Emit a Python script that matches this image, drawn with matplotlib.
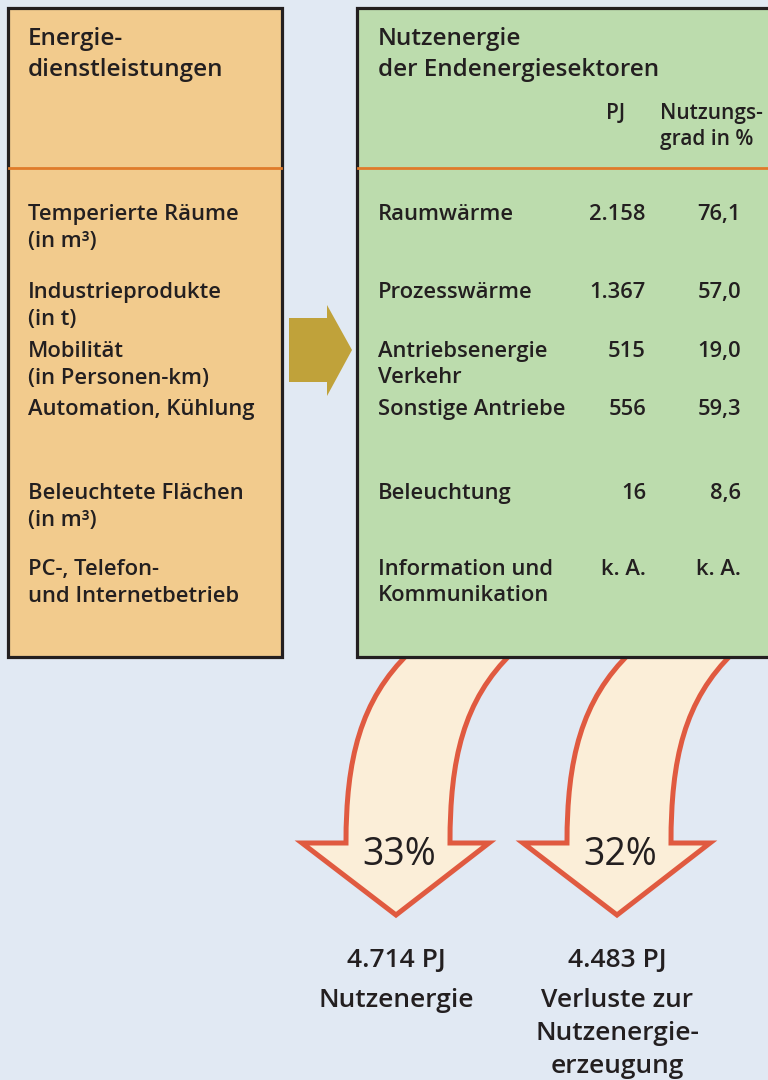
import matplotlib.pyplot as plt
from matplotlib.patches import Rectangle, Polygon, PathPatch
from matplotlib.path import Path

plt.rcParams['font.family'] = ['Open Sans', 'DejaVu Sans']

# data
left_title = ['Energie-', 'dienstleistungen']
right_title = ['Nutzenergie', 'der Endenergiesektoren']
services = [['Temperierte Räume', '(in m³)'], ['Industrieprodukte', '(in t)'],
            ['Mobilität', '(in Personen-km)'], ['Automation, Kühlung'],
            ['Beleuchtete Flächen', '(in m³)'], ['PC-, Telefon-', 'und Internetbetrieb']]
sectors = [['Raumwärme'], ['Prozesswärme'], ['Antriebsenergie', 'Verkehr'], ['Sonstige Antriebe'],
           ['Beleuchtung'], ['Information und', 'Kommunikation']]
sector_pj = ['2.158', '1.367', '515', '556', '16', 'k. A.']
sector_grad = ['76,1', '57,0', '19,0', '59,3', '8,6', 'k. A.']
shares = ['33%', '32%']
totals = ['4.714 PJ', '4.483 PJ']
total_labels = [['Nutzenergie'], ['Verluste zur', 'Nutzenergie-', 'erzeugung']]

row_base = [220, 298, 357, 415, 499, 575]

dark = '#231f20'
fig = plt.figure(figsize=(7.68, 10.8), dpi=100, facecolor='#e1e9f3')
ax = fig.add_axes([0, 0, 1, 1])
ax.set_xlim(0, 768)
ax.set_ylim(1080, 0)
ax.axis('off')

fs_head = 17.5
fs_item = 15.8


def lines(x, y0, rows, step, **kw):
    for k, r in enumerate(rows):
        ax.text(x, y0 + k * step, r, color=dark, va='baseline', zorder=5, **kw)


# boxes
ax.add_patch(Rectangle((8, 8), 274, 649, facecolor='#f2cb8d', edgecolor=dark, lw=2.3, zorder=3))
ax.add_patch(Rectangle((357, 8), 430, 649, facecolor='#bcdcad', edgecolor=dark, lw=2.3, zorder=3))
ax.plot([9, 281], [168, 168], color='#e07b2a', lw=2, zorder=4)
ax.plot([358, 768], [168, 168], color='#e07b2a', lw=2, zorder=4)

# gold arrow
ax.add_patch(Polygon([(289, 318), (327, 318), (327, 305), (352, 350), (327, 396), (327, 382), (289, 382)],
                     closed=True, facecolor='#c0a23a', edgecolor='none', zorder=3))

# titles
lines(28, 45, left_title, 31, fontsize=fs_head, fontweight='semibold', ha='left')
lines(378, 45, right_title, 31, fontsize=fs_head, fontweight='semibold', ha='left')
lines(625, 119, ['PJ'], 27, fontsize=15, fontweight='semibold', ha='right')
lines(660, 119, ['Nutzungs-', 'grad in %'], 26, fontsize=15, fontweight='semibold', ha='left')

for s, y in zip(services, row_base):
    lines(28, y, s, 27, fontsize=fs_item, fontweight='semibold', ha='left')
for s, pj, g, y in zip(sectors, sector_pj, sector_grad, row_base):
    lines(378, y, s, 26, fontsize=fs_item, fontweight='semibold', ha='left')
    lines(646, y, [pj], 26, fontsize=fs_item, fontweight='semibold', ha='right')
    lines(741, y, [g], 26, fontsize=fs_item, fontweight='semibold', ha='right')


# curved arrows
def curved_arrow(dx):
    verts = [(302, 843), (346, 843),
             (346, 760), (360, 700), (410, 652),
             (513, 652),
             (463, 700), (450, 760), (450, 843),
             (489, 843), (396, 915), (302, 843)]
    verts = [(x + dx, y) for x, y in verts]
    codes = [Path.MOVETO, Path.LINETO,
             Path.CURVE4, Path.CURVE4, Path.CURVE4,
             Path.LINETO,
             Path.CURVE4, Path.CURVE4, Path.CURVE4,
             Path.LINETO, Path.LINETO, Path.CLOSEPOLY]
    ax.add_patch(PathPatch(Path(verts, codes), facecolor='#fbeed8', edgecolor='#e05a40',
                           lw=3.6, joinstyle='miter', zorder=2))


for i, (sh, tot, lab) in enumerate(zip(shares, totals, total_labels)):
    dx = 221 * i
    curved_arrow(dx)
    lines(399.5 + dx, 865, [sh], 0, fontsize=27, ha='center')
    lines(396 + dx, 967, [tot], 0, fontsize=19, fontweight='semibold', ha='center')
    lines(396 + dx, 1007, lab, 33, fontsize=19, fontweight='semibold', ha='center')

fig.savefig('out.png', dpi=100, facecolor=fig.get_facecolor())
